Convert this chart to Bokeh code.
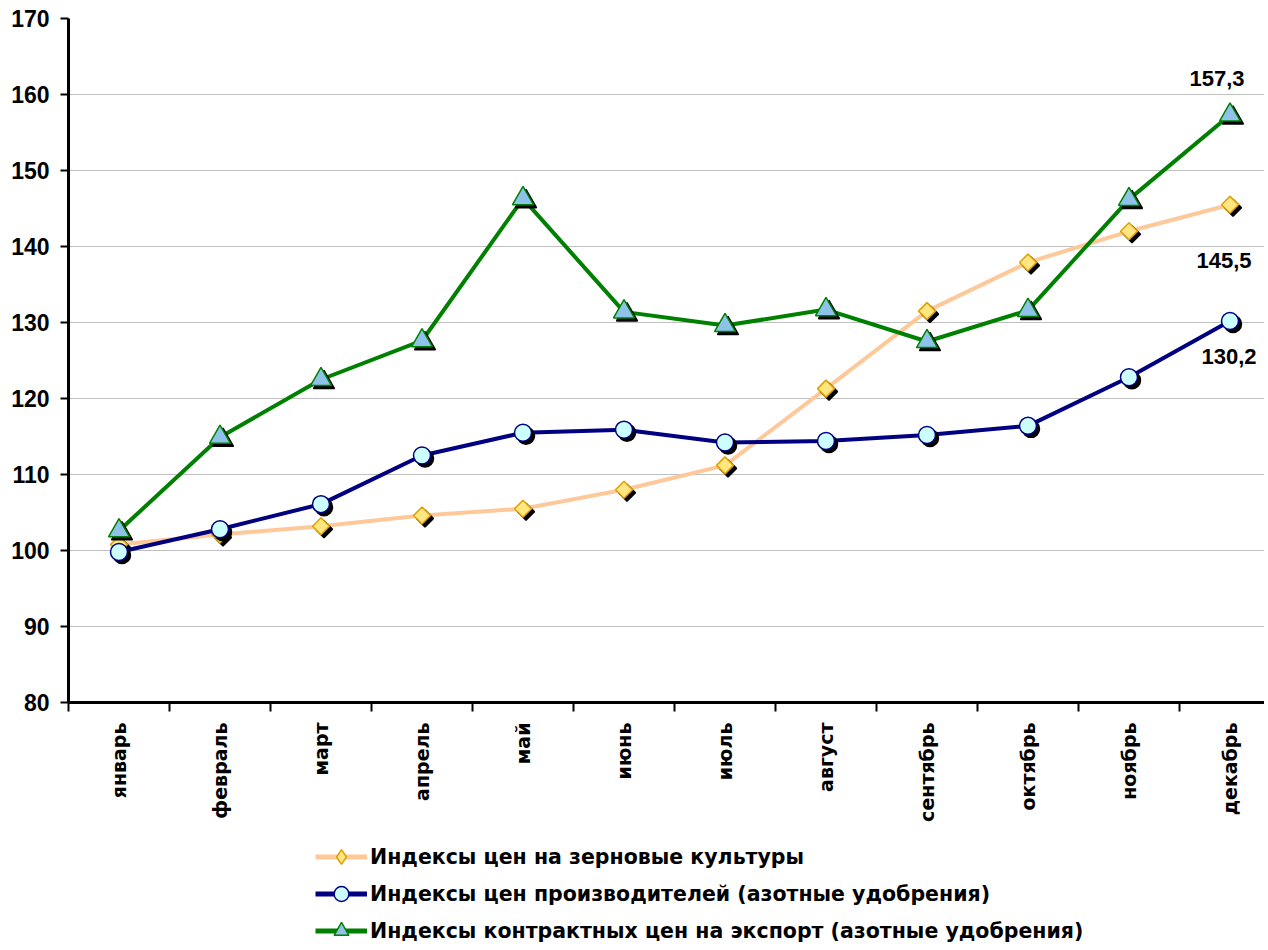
import math
from bokeh.plotting import figure
from bokeh.layouts import column
from bokeh.models import Range1d, LinearAxis, FixedTicker, Legend, LegendItem, ColumnDataSource
from bokeh.core.properties import value
from bokeh.embed import file_html
from bokeh.resources import INLINE

months = ["январь", "февраль", "март", "апрель", "май", "июнь",
          "июль", "август", "сентябрь", "октябрь", "ноябрь", "декабрь"]
grain = [100.8, 102.1, 103.2, 104.6, 105.5, 108.0, 111.2, 121.3, 131.5, 137.9, 142.0, 145.5]
producer = [99.8, 102.8, 106.1, 112.5, 115.5, 115.9, 114.2, 114.4, 115.2, 116.4, 122.8, 130.2]
export = [102.6, 114.9, 122.5, 127.6, 146.3, 131.4, 129.6, 131.7, 127.5, 131.6, 146.2, 157.3]
series_names = ["Индексы цен на зерновые культуры",
                "Индексы цен производителей (азотные удобрения)",
                "Индексы контрактных цен на экспорт (азотные удобрения)"]
y_ticks = list(range(80, 171, 10))
end_values = [grain[-1], producer[-1], export[-1]]
end_labels = ["145,5", "130,2", "157,3"]

FONT = "Liberation Sans"
FONT_W = "DejaVu Sans"
x_idx = list(range(1, len(months) + 1))
x_bounds = [i + 0.5 for i in range(len(months) + 1)]

W, H = 1264, 838
BL, BR, BT, BB = 68, 0, 18, 136
SLOT = 101  # px per month (the original plot area runs past the right edge)
frame_w = W - BL - BR
frame_h = H - BT - BB
x0 = 0.5
x1 = x0 + frame_w / SLOT
y0, y1 = 80, 170
dx = 3 * (x1 - x0) / frame_w
dy = 3 * (y1 - y0) / frame_h

p = figure(width=W, height=H, output_backend="svg", toolbar_location=None,
           x_range=Range1d(x0, x1), y_range=Range1d(y0, y1),
           x_axis_location=None, min_border_left=BL, min_border_right=BR,
           min_border_top=BT, min_border_bottom=BB)
p.outline_line_color = None
p.background_fill_color = "white"
p.extra_x_ranges = {"sh": Range1d(x0 - dx, x1 - dx)}
p.extra_y_ranges = {"sh": Range1d(y0 + dy, y1 + dy)}

# y axis
p.yaxis.ticker = FixedTicker(ticks=y_ticks)
p.yaxis.axis_line_width = 3
p.yaxis.axis_line_color = "black"
p.yaxis.major_tick_out = 8
p.yaxis.major_tick_in = 0
p.yaxis.major_tick_line_width = 2
p.yaxis.minor_tick_line_color = None
p.yaxis.major_label_text_font = FONT
p.yaxis.major_label_text_font_style = "bold"
p.yaxis.major_label_text_font_size = "23px"
p.yaxis.major_label_text_color = "black"
p.yaxis.major_label_standoff = 11
p.ygrid.ticker = FixedTicker(ticks=y_ticks)
p.ygrid.grid_line_color = "#C0C0C0"
p.ygrid.grid_line_width = 1
p.xgrid.grid_line_color = None

# x axis: labels at month centres, tick marks at month boundaries (minor ticks)
xa = LinearAxis(ticker=FixedTicker(ticks=x_idx, minor_ticks=x_bounds),
                major_label_overrides={i: m for i, m in zip(x_idx, months)})
xa.axis_line_width = 3
xa.axis_line_color = "black"
xa.major_tick_line_color = None
xa.major_tick_out = 0
xa.major_tick_in = 0
xa.minor_tick_out = 9
xa.minor_tick_in = 0
xa.minor_tick_line_width = 2
xa.minor_tick_line_color = "black"
xa.major_label_orientation = math.pi / 2
xa.major_label_text_font = FONT_W
xa.major_label_text_font_style = "bold"
xa.major_label_text_font_size = "19px"
xa.major_label_text_color = "black"
xa.major_label_standoff = 11
p.add_layout(xa, "below")

src = ColumnDataSource(dict(x=x_idx, grain=grain, producer=producer, export=export))

# key, line colour, marker, size, angle, fill, outline, legend marker, legend size
styles = [
    ("grain", "#FFC898", "square", 12, math.pi / 4, "#FFE680", "#E0A000", "diamond", 16),
    ("export", "#008000", "triangle", 21, 0, "#8EC2EA", "#008000", "triangle", 13),
    ("producer", "#000080", "circle", 17, 0, "#CCFFFF", "#000080", "circle", 11),
]
for key, lc, marker, size, ang, fill, outline, _, _ in styles:
    p.line("x", key, source=src, line_color=lc, line_width=4)
    p.scatter("x", key, source=src, marker=marker, size=size, angle=ang, fill_color="black",
              line_color="black", line_width=1.5, x_range_name="sh", y_range_name="sh")
    p.scatter("x", key, source=src, marker=marker, size=size, angle=ang, fill_color=fill,
              line_color=outline, line_width=1.5)

# end-of-series value labels
lab = ColumnDataSource(dict(x=[x_idx[-1]] * 3, y=end_values, t=end_labels,
                            xo=[-6, -1, -13], yo=[56, 36, -37]))
p.text("x", "y", text="t", source=lab, x_offset="xo", y_offset="yo",
       text_font=value(FONT), text_font_style="bold", text_font_size="22px",
       text_align="center", text_baseline="middle", text_color="black")

# legend panel below the chart (its glyph renderers use the same data, out of view)
LH = 37
p2 = figure(width=W, height=3 * LH, output_backend="svg", toolbar_location=None,
            x_range=Range1d(0, 1), y_range=Range1d(0, 1),
            x_axis_location=None, y_axis_location=None, min_border=0,
            min_border_left=0, min_border_right=0, min_border_top=0, min_border_bottom=0)
p2.outline_line_color = None
p2.grid.grid_line_color = None
leg_items = []
order = {"grain": 0, "producer": 1, "export": 2}
for key, lc, _, _, _, fill, outline, lmarker, lsize in sorted(styles, key=lambda s: order[s[0]]):
    ln = p2.line("x", key, source=src, line_color=lc, line_width=5)
    sc = p2.scatter("x", key, source=src, marker=lmarker, size=lsize, fill_color=fill,
                    line_color=outline, line_width=1.5)
    leg_items.append(LegendItem(label=series_names[order[key]], renderers=[ln, sc]))

legend = Legend(items=leg_items, location=(247, 0), orientation="vertical")
legend.padding = 0
legend.spacing = 0
legend.margin = 0
legend.label_height = LH
legend.glyph_height = LH
legend.glyph_width = 52
legend.label_standoff = 3
legend.border_line_color = None
legend.background_fill_alpha = 0
legend.label_text_font = FONT_W
legend.label_text_font_style = "bold"
legend.label_text_font_size = "20.5px"
legend.label_text_color = "black"
p2.add_layout(legend, "center")

layout = column(p, p2, spacing=0)
open("out.html", "w").write(file_html(layout, INLINE))
